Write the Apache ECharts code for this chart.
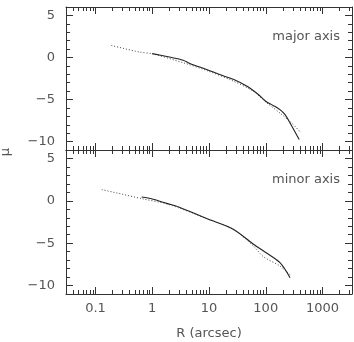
<!DOCTYPE html>
<html>
<head>
<meta charset="utf-8">
<script src="https://cdn.jsdelivr.net/npm/echarts@6/dist/echarts.min.js"></script>
<style>
  html, body { margin: 0; padding: 0; background: #fff; }
  #chart { width: 354px; height: 342px; }
</style>
</head>
<body>
<div id="chart"></div>
<script>
  // radius in arcsec, surface brightness mu
  const majorDataR = [1, 2, 3.5, 4.6, 9.1, 15, 26.7, 46, 74, 100, 135, 178, 219, 268, 388]
  const majorDataMu = [0.46, 0.05, -0.32, -0.71, -1.43, -2.0, -2.6, -3.4, -4.4, -5.2, -5.7, -6.2, -6.8, -7.8, -9.76]
  const majorModelR = [0.19, 0.61, 1, 3.5, 9.1, 26.7, 60, 100, 178, 286, 400]
  const majorModelMu = [1.43, 0.63, 0.44, -0.63, -1.55, -2.8, -4.0, -5.3, -6.6, -7.8, -8.8]

  const minorDataR = [0.65, 1, 1.8, 3, 9.1, 26.7, 60, 100, 178, 268]
  const minorDataMu = [0.45, 0.22, -0.3, -0.75, -2.1, -3.35, -5.1, -6.1, -7.3, -9.07]
  const minorModelR = [0.129, 0.65, 2, 9.1, 26.7, 60, 91, 178, 285]
  const minorModelMu = [1.33, 0.26, -0.45, -2.1, -3.35, -5.3, -6.6, -7.7, -8.9]

  const xMajorTicks = [0.1, 1, 10, 100, 1000]
  const yMajorTicks = [-10, -5, 0, 5]

  const xMin = 0.0302, xMax = 3310
  const yMin = -11, yMax = 6

  const xMinorTicks = []
  ;[0.01, 0.1, 1, 10, 100, 1000].forEach(d => {
    for (let k = 2; k <= 9; k++) {
      const v = k * d
      if (v > xMin && v < xMax) xMinorTicks.push(v)
    }
  })
  const yMinorTicks = []
  for (let v = yMin + 1; v < yMax; v++) {
    if (yMajorTicks.indexOf(v) < 0) yMinorTicks.push(v)
  }

  const ink = '#333'
  const textColor = '#555'
  const font = 'DejaVu Sans'

  const pairs = (xs, ys) => xs.map((x, i) => [x, ys[i]])

  const xAxisFor = (grid, position, major, labels) => ({
    type: 'log',
    logBase: 10,
    gridIndex: grid,
    position: position,
    min: xMin,
    max: xMax,
    splitLine: { show: false },
    axisLine: { show: major, onZero: false, lineStyle: { color: ink, width: 1 } },
    axisTick: {
      show: true,
      inside: true,
      length: major ? 7 : 4,
      customValues: major ? xMajorTicks : xMinorTicks,
      lineStyle: { color: ink, width: 1 }
    },
    axisLabel: {
      show: labels,
      customValues: xMajorTicks,
      margin: 8,
      color: textColor,
      fontFamily: font,
      fontSize: 13,
      formatter: v => String(v)
    }
  })

  const yAxisFor = (grid, position, major, labels) => ({
    type: 'value',
    gridIndex: grid,
    position: position,
    min: yMin,
    max: yMax,
    splitLine: { show: false },
    axisLine: { show: major, onZero: false, lineStyle: { color: ink, width: 1 } },
    axisTick: {
      show: true,
      inside: true,
      length: major ? 7 : 4,
      customValues: major ? yMajorTicks : yMinorTicks,
      lineStyle: { color: ink, width: 1 }
    },
    axisLabel: {
      show: labels,
      customValues: yMajorTicks,
      margin: 11,
      color: textColor,
      fontFamily: font,
      fontSize: 13,
      formatter: v => String(v).replace('-', '\u2212')
    }
  })

  const xAxes = []
  const yAxes = []
  ;[0, 1].forEach(g => {
    xAxes.push(xAxisFor(g, 'bottom', true, g === 1))
    xAxes.push(xAxisFor(g, 'bottom', false, false))
    xAxes.push(xAxisFor(g, 'top', true, false))
    xAxes.push(xAxisFor(g, 'top', false, false))
    yAxes.push(yAxisFor(g, 'left', true, true))
    yAxes.push(yAxisFor(g, 'left', false, false))
    yAxes.push(yAxisFor(g, 'right', true, false))
    yAxes.push(yAxisFor(g, 'right', false, false))
  })

  const solid = { color: '#222', width: 1.1 }
  const dotted = { color: '#444', width: 1, type: [1, 2] }

  const line = (g, data, style) => ({
    type: 'line',
    xAxisIndex: g * 4,
    yAxisIndex: g * 4,
    data: data,
    showSymbol: false,
    smooth: 0.3,
    silent: true,
    lineStyle: style
  })

  const option = {
    animation: false,
    backgroundColor: '#fff',
    grid: [
      { left: 66, top: 7, width: 286, height: 143 },
      { left: 66, top: 150, width: 286, height: 144 }
    ],
    xAxis: xAxes,
    yAxis: yAxes,
    series: [
      line(0, pairs(majorModelR, majorModelMu), dotted),
      line(0, pairs(majorDataR, majorDataMu), solid),
      line(1, pairs(minorModelR, minorModelMu), dotted),
      line(1, pairs(minorDataR, minorDataMu), solid)
    ],
    graphic: [
      {
        type: 'text', right: 14, top: 30,
        style: { text: 'major axis', fill: textColor, font: '13px "DejaVu Sans"' }
      },
      {
        type: 'text', right: 14, top: 173,
        style: { text: 'minor axis', fill: textColor, font: '13px "DejaVu Sans"' }
      },
      {
        type: 'text', x: 209, y: 334,
        style: { text: 'R (arcsec)', fill: textColor, font: '13px "DejaVu Sans"', align: 'center', verticalAlign: 'middle' }
      },
      {
        type: 'text', x: 6, y: 152, rotation: Math.PI / 2,
        style: { text: '\u03bc', fill: textColor, font: '13px "DejaVu Sans"', align: 'center', verticalAlign: 'middle' }
      }
    ]
  }

  const myChart = echarts.init(document.getElementById('chart'))
  myChart.setOption(option)
</script>
</body>
</html>
